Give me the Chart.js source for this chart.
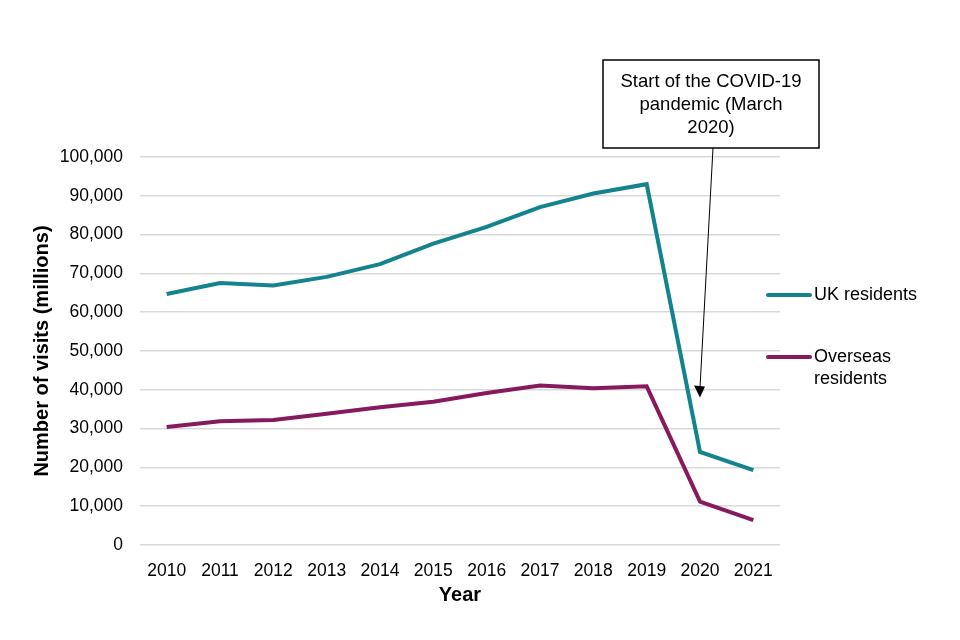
<!DOCTYPE html>
<html lang="en">
<head>
    <meta charset="UTF-8">
    <title>Visits UK and overseas residents</title>
    <script src="https://cdn.jsdelivr.net/npm/chart.js"></script>
    <style>
        body { margin: 0; background: #ffffff; }
        #wrap { width: 960px; height: 640px; }
    </style>
</head>
<body>
    <div id="wrap"><canvas id="visitsChart" width="960" height="640"></canvas></div>

    <script>
        // data
        const years = ['2010', '2011', '2012', '2013', '2014', '2015', '2016', '2017', '2018', '2019', '2020', '2021'];
        const ukResidents = [64700, 67500, 66900, 69100, 72400, 77700, 82000, 87100, 90600, 93000, 24000, 19300];
        const overseasResidents = [30400, 31900, 32200, 33800, 35500, 36900, 39200, 41100, 40400, 40900, 11200, 6400];
        const yTicks = [0, 10000, 20000, 30000, 40000, 50000, 60000, 70000, 80000, 90000, 100000];

        const teal = '#13838F';
        const purple = '#871A5F';
        const fontFamily = '"Liberation Sans", Arial, sans-serif';

        // legend + COVID note drawn by hand
        const extras = {
            id: 'extras',
            afterDraw(chart) {
                const ctx = chart.ctx;
                const x = chart.scales.x, y = chart.scales.y;
                ctx.save();

                // legend on the right
                const lx = 768;
                ctx.lineWidth = 4;
                ctx.lineCap = 'round';
                ctx.font = '18px ' + fontFamily;
                ctx.textBaseline = 'middle';
                ctx.fillStyle = '#000';
                ctx.strokeStyle = teal;
                ctx.beginPath(); ctx.moveTo(lx, 295); ctx.lineTo(lx + 42, 295); ctx.stroke();
                ctx.fillText('UK residents', lx + 46, 295);
                ctx.strokeStyle = purple;
                ctx.beginPath(); ctx.moveTo(lx, 357); ctx.lineTo(lx + 42, 357); ctx.stroke();
                ctx.fillText('Overseas', lx + 46, 357);
                ctx.fillText('residents', lx + 46, 379);

                // annotation box with arrow to 2020
                const tipX = x.getPixelForValue(10);
                const tipY = y.getPixelForValue(38000);
                const bx = tipX - 97, bw = 216, by = 60, bh = 88;
                ctx.lineCap = 'butt';
                ctx.lineWidth = 1;
                ctx.strokeStyle = '#000';
                ctx.beginPath();
                ctx.moveTo(bx + 110, by + bh);
                ctx.lineTo(tipX, tipY - 10);
                ctx.stroke();
                ctx.beginPath();
                ctx.moveTo(tipX, tipY);
                ctx.lineTo(tipX - 6, tipY - 12);
                ctx.lineTo(tipX + 5, tipY - 11);
                ctx.closePath();
                ctx.fillStyle = '#000';
                ctx.fill();

                ctx.fillStyle = '#fff';
                ctx.fillRect(bx, by, bw, bh);
                ctx.lineWidth = 1.5;
                ctx.strokeRect(bx, by, bw, bh);
                ctx.fillStyle = '#000';
                ctx.textAlign = 'center';
                ctx.font = '18.5px ' + fontFamily;
                const cx = bx + bw / 2;
                ctx.fillText('Start of the COVID-19', cx, by + 22);
                ctx.fillText('pandemic (March', cx, by + 45);
                ctx.fillText('2020)', cx, by + 68);
                ctx.restore();
            }
        };

        new Chart(document.getElementById('visitsChart'), {
            type: 'line',
            data: {
                labels: years,
                datasets: [{
                    label: 'UK residents',
                    data: ukResidents,
                    borderColor: teal,
                    borderWidth: 4,
                    pointRadius: 0,
                    tension: 0
                }, {
                    label: 'Overseas residents',
                    data: overseasResidents,
                    borderColor: purple,
                    borderWidth: 4,
                    pointRadius: 0,
                    tension: 0
                }]
            },
            options: {
                responsive: false,
                animation: false,
                layout: { padding: { top: 157, right: 180, bottom: 20, left: 0 } },
                plugins: {
                    legend: { display: false },
                    tooltip: { enabled: false }
                },
                scales: {
                    x: {
                        offset: true,
                        grid: { display: false },
                        border: { display: false },
                        ticks: { color: '#000', padding: 8, font: { family: fontFamily, size: 17.5 } },
                        title: {
                            display: true, text: 'Year', color: '#000',
                            padding: { top: 0, bottom: 13 },
                            font: { family: fontFamily, size: 20, weight: 'bold' }
                        },
                        afterFit(scale) { scale.height = 75; }
                    },
                    y: {
                        min: 0,
                        max: 100000,
                        afterBuildTicks(scale) { scale.ticks = yTicks.map(v => ({ value: v })); },
                        grid: { color: '#d9d9d9', lineWidth: 1.5, drawTicks: false },
                        border: { display: false },
                        ticks: {
                            color: '#000', padding: 17,
                            font: { family: fontFamily, size: 17.5 },
                            callback: v => v.toLocaleString('en-GB')
                        },
                        title: {
                            display: true, text: 'Number of visits (millions)', color: '#000',
                            padding: { top: 30, bottom: 0 },
                            font: { family: fontFamily, size: 20, weight: 'bold' }
                        },
                        afterFit(scale) { scale.width = 140; }
                    }
                }
            },
            plugins: [extras]
        });
    </script>
</body>
</html>
